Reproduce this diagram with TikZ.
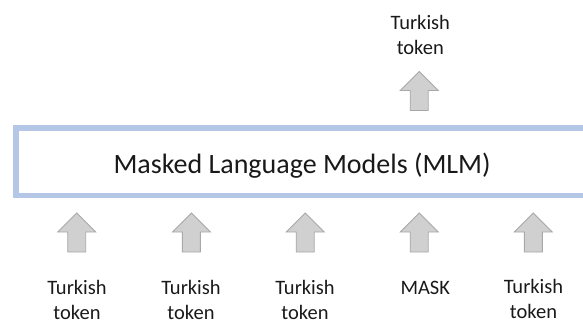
\documentclass[tikz,border=0pt]{standalone}
\usepackage{fontspec}
\setmainfont{Carlito}
\definecolor{boxblue}{RGB}{180,199,231}
\definecolor{arrowfill}{RGB}{208,208,208}
\definecolor{arrowline}{RGB}{168,168,168}
\definecolor{ink}{RGB}{25,25,25}
\tikzset{
  x=1pt, y=1pt,
  blockarrow/.style={fill=arrowfill, draw=arrowline, line width=0.9pt, line join=miter},
  uparrow/.pic={
    \path[blockarrow] (-9,-19.5) -- (9,-19.5) -- (9,0.5) -- (19,0.5)
      -- (0,19.5) -- (-19,0.5) -- (-9,0.5) -- cycle;
  },
  % base anchor of a two-line label sits on its second line
  tokenlabel/.style={font=\fontsize{20.5}{25}\selectfont, text=ink, align=center, inner sep=0pt, text depth=0pt, anchor=base},
  modelbox/.style={draw=boxblue, line width=5.5pt, minimum width=571.8pt, minimum height=67.5pt, inner sep=0pt},
  modeltext/.style={font=\fontsize{28}{34}\selectfont, text=ink, inner sep=0pt, anchor=base}
}
\begin{document}
\begin{tikzpicture}
\useasboundingbox (0,0) rectangle (583,324);
\clip (0,0) rectangle (583,324);

% central model block
\node[modelbox] (mlm) at (302.1,162.25) {};
\node[modeltext] (mlmtext) at (302.1,150) {Masked Language Models (MLM)};

% input arrows
\pic (a1) at (76.7,91.5) {uparrow};
\pic (a2) at (191.4,91.5) {uparrow};
\pic (a3) at (305.2,91.5) {uparrow};
\pic (a4) at (419.2,91.5) {uparrow};
\pic (a5) at (533.3,91.5) {uparrow};

% output arrow
\pic (a6) at (419.2,233) {uparrow};

% input tokens
\node[tokenlabel] (t1) at (77,5) {Turkish\\token};
\node[tokenlabel] (t2) at (191,5) {Turkish\\token};
\node[tokenlabel] (t3) at (305,5) {Turkish\\token};
\node[tokenlabel] (t4) at (425.3,30) {MASK};
\node[tokenlabel] (t5) at (533.5,5.5) {Turkish\\token};

% output token
\node[tokenlabel] (out) at (420.3,269) {Turkish\\token};
\end{tikzpicture}
\end{document}
